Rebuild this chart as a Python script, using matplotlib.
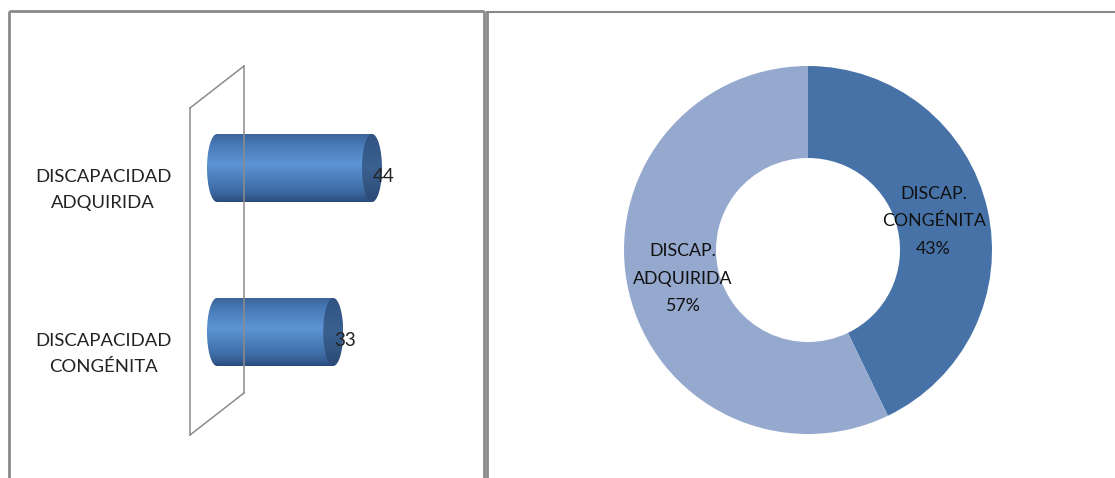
import matplotlib
matplotlib.use('Agg')
import matplotlib.pyplot as plt
import numpy as np
from matplotlib.colors import LinearSegmentedColormap
from matplotlib.patches import Ellipse, Rectangle
from matplotlib.lines import Line2D

# Data
categorias = ['DISCAPACIDAD\nCONGÉNITA', 'DISCAPACIDAD\nADQUIRIDA']
valores = [33, 44]
etiquetas_dona = ['DISCAP.\nCONGÉNITA', 'DISCAP.\nADQUIRIDA']

W, H = 1115, 478
plt.rcParams['font.family'] = ['Lato', 'DejaVu Sans']

fig = plt.figure(figsize=(W / 100, H / 100), dpi=100)
fig.patch.set_facecolor('white')


def rect_px(left, top, right, bottom):
    # axes rectangle from pixel box (top-left origin)
    return [left / W, 1 - bottom / H, (right - left) / W, (bottom - top) / H]


def line_px(xs, ys, **kw):
    fig.add_artist(Line2D([x / W for x in xs], [1 - y / H for y in ys],
                          transform=fig.transFigure, **kw))


# panel frames
frame = dict(color='#8a8a8a', lw=2.0, solid_capstyle='butt')
line_px([9, 9], [11, H], **frame)
line_px([9, 484], [11, 11], **frame)
line_px([484, 484], [11, H], **frame)
line_px([487, 487], [11, H], **frame)
line_px([487, W], [11.5, 11.5], color='#8a8a8a', lw=1.5)

# ---- left: 3D cylinder bars ----
ax = fig.add_axes(rect_px(190, 60, 480, 440))
k = 155 / 44.0  # pixels per unit
ax.set_xlim((190 - 217) / k, (480 - 217) / k)
ax.set_ylim(-(440 - 332) / 164, 1 + (168 - 60) / 164)
ax.axis('off')

# back wall of the 3D axis
wall = dict(color='#8c8c8c', lw=1.1)
line_px([190, 190], [108, 435], **wall)
line_px([244, 244], [66, 393], **wall)
line_px([190, 244], [108, 66], **wall)
line_px([190, 244], [435, 393], **wall)

body_cmap = LinearSegmentedColormap.from_list('body', [
    (0.0, '#2a4c7c'), (0.15, '#3d6aa3'), (0.55, '#5c95d5'),
    (0.85, '#4778b4'), (1.0, '#3a6298')])
cap_cmap = LinearSegmentedColormap.from_list('cap', [
    (0.0, '#2b4a75'), (0.5, '#3b6190'), (1.0, '#2f5282')])
grad = np.linspace(0, 1, 256).reshape(-1, 1)

bar_h = 0.415
rx = 10 / k
for i, v in enumerate(valores):
    y0, y1 = i - bar_h / 2, i + bar_h / 2
    # left rounded end
    left_end = Ellipse((0, i), 2 * rx, bar_h, facecolor='none', edgecolor='none')
    ax.add_patch(left_end)
    im = ax.imshow(grad, cmap=body_cmap, aspect='auto', extent=(-rx, v, y0, y1),
                   origin='lower', zorder=2)
    im.set_clip_path(left_end)
    body = Rectangle((0, y0), v, bar_h, facecolor='none', edgecolor='none')
    ax.add_patch(body)
    im2 = ax.imshow(grad, cmap=body_cmap, aspect='auto', extent=(-rx, v, y0, y1),
                    origin='lower', zorder=2)
    im2.set_clip_path(body)
    # right cap
    cap = Ellipse((v, i), 2 * rx, bar_h, facecolor='none', edgecolor='none')
    ax.add_patch(cap)
    im3 = ax.imshow(grad, cmap=cap_cmap, aspect='auto',
                    extent=(v - rx, v + rx, y0, y1), origin='lower', zorder=3)
    im3.set_clip_path(cap)
    ax.annotate(str(v), (v, i), xytext=(1, -9), textcoords='offset pixels',
                ha='left', va='center', fontsize=13.5, color='#222222', zorder=5)
    ax.annotate(categorias[i], xy=(103, i), xycoords=('figure pixels', 'data'),
                xytext=(0, -22), textcoords='offset pixels', ha='center',
                va='center', fontsize=13.3, color='#222222', linespacing=1.8)

# ---- right: doughnut ----
r_px = 184
ax2 = fig.add_axes(rect_px(808 - r_px, 250 - r_px, 808 + r_px, 250 + r_px))
total = sum(valores)


def etiqueta(pct):
    idx = 0 if abs(pct - 100 * valores[0] / total) < 0.01 else 1
    return f'{etiquetas_dona[idx]}\n{pct:.0f}%'


ax2.pie(valores, colors=['#4672a8', '#95a9cf'], startangle=90, counterclock=False,
        radius=1, wedgeprops=dict(width=0.5, edgecolor='none'),
        autopct=etiqueta, pctdistance=0.7,
        textprops=dict(fontsize=12.8, color='#111111', linespacing=1.87, ha='center'))
ax2.set_xlim(-1, 1)
ax2.set_ylim(-1, 1)
ax2.set_aspect('auto')
ax2.axis('off')

fig.savefig('out.png', dpi=100, facecolor='white')
